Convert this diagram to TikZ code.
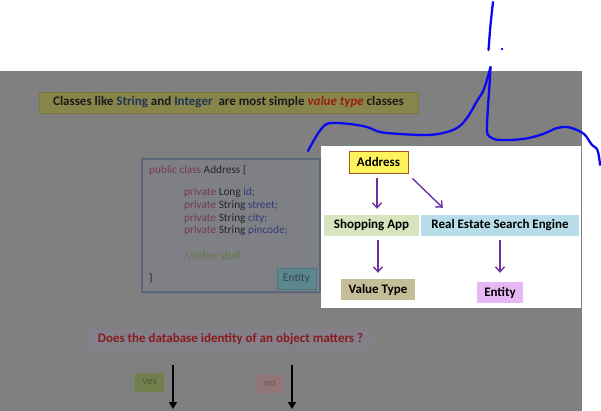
\documentclass[tikz,border=0pt]{standalone}
\usepackage{fontspec}
\setmainfont{Carlito}
\usetikzlibrary{arrows.meta}
\definecolor{greybg}{HTML}{808080}
\definecolor{banfill}{HTML}{88854A}
\definecolor{banedge}{HTML}{7A7842}
\definecolor{bantext}{HTML}{1A1A1A}
\definecolor{strblue}{HTML}{1F3459}
\definecolor{vtred}{HTML}{962010}
\definecolor{codefill}{HTML}{7E8086}
\definecolor{codeedge}{HTML}{5A677C}
\definecolor{kwcol}{HTML}{773857}
\definecolor{plaincol}{HTML}{262626}
\definecolor{idcol}{HTML}{38387A}
\definecolor{cmtcol}{HTML}{66753C}
\definecolor{badgefill}{HTML}{5B878F}
\definecolor{badgeedge}{HTML}{4B7782}
\definecolor{badgetext}{HTML}{37444A}
\definecolor{qfill}{HTML}{83808A}
\definecolor{qtext}{HTML}{881C1C}
\definecolor{yesfill}{HTML}{71804C}
\definecolor{yestext}{HTML}{515A3E}
\definecolor{nofill}{HTML}{937577}
\definecolor{notext}{HTML}{655454}
\definecolor{addrfill}{HTML}{FFF35C}
\definecolor{addredge}{HTML}{A8542A}
\definecolor{shopfill}{HTML}{D7E4BD}
\definecolor{realfill}{HTML}{B7DEE8}
\definecolor{valfill}{HTML}{C4BD97}
\definecolor{entfill}{HTML}{E6B9F6}
\definecolor{arrpurple}{HTML}{7030A0}
\definecolor{inkblue}{HTML}{0A0AF0}
\tikzset{
  box/.style={inner sep=0pt, minimum height=21pt, text=black, font=\fontsize{13}{15}\selectfont\bfseries},
  codeline/.style={anchor=west, inner sep=0pt, font=\fontsize{11.3}{13}\selectfont, text=plaincol},
  parrow/.style={draw=arrpurple, line width=1.4pt, -{Straight Barb[length=5pt,width=9pt]}},
  barrow/.style={draw=black, line width=1.8pt, -{Triangle[length=7pt,width=8pt]}},
  ink/.style={draw=inkblue, line width=2.3pt, line cap=round, line join=round},
}
\begin{document}
\begin{tikzpicture}[x=1pt,y=-1pt]
\useasboundingbox (0,0) rectangle (601,411);
\fill[white] (0,0) rectangle (601,411);
\fill[greybg] (0,71) rectangle (582,411);
% banner
\node[box, fill=banfill, draw=banedge, line width=0.8pt, minimum width=379pt, text=bantext] (ban) at (228.5,102.5)
  {Classes like \textcolor{strblue}{String} and \textcolor{strblue}{Integer}\ \ are most simple \textcolor{vtred}{\textit{value type}} classes};
% code box
\fill[black!60, opacity=0.25] (144,161) rectangle (322,294);
\node[draw=codeedge, fill=codefill, line width=1.2pt, minimum width=178pt, minimum height=133pt, inner sep=0pt] (code) at (231,225.5) {};
\node[codeline] (c1) at (149,170) {\textcolor{kwcol}{public class} Address \{};
\node[codeline] (c2) at (184,193) {\textcolor{kwcol}{private} Long \textcolor{idcol}{id;}};
\node[codeline] (c3) at (184,206) {\textcolor{kwcol}{private} String \textcolor{idcol}{street;}};
\node[codeline] (c4) at (184,219) {\textcolor{kwcol}{private} String \textcolor{idcol}{city;}};
\node[codeline] (c5) at (184,231) {\textcolor{kwcol}{private} String \textcolor{idcol}{pincode;}};
\node[codeline, text=cmtcol] (c6) at (184,256) {//other stuff};
\node[codeline] (c7) at (149,278) {\}};
\node[draw=badgeedge, fill=badgefill, line width=1pt, minimum width=39pt, minimum height=21pt, inner sep=0pt, text=badgetext, font=\fontsize{11.5}{13}\selectfont] (ent0) at (296.5,278.5) {Entity};
% white panel
\node[fill=white, minimum width=260pt, minimum height=162pt, inner sep=0pt] (panel) at (451,227) {};
\node[box, fill=addrfill, draw=addredge, line width=0.9pt, minimum width=59pt, minimum height=22pt] (addr) at (378.5,162) {Address};
\node[box, fill=shopfill, minimum width=95pt] (shop) at (371.5,225.5) {Shopping App};
\node[box, fill=realfill, minimum width=158pt] (real) at (500,225.5) {Real Estate Search Engine};
\node[box, fill=valfill, minimum width=74pt] (val) at (378,289.5) {Value Type};
\node[box, fill=entfill, minimum width=46pt] (ent) at (500,292.5) {Entity};
\draw[parrow, shorten <=5pt, shorten >=6pt] ([xshift=-1.5pt]addr.south) -- ([xshift=-1.5pt]addr.south |- shop.north);
\draw[parrow] ([shift={(4,5)}]addr.south east) -- ([shift={(22,-7)}]real.north west);
\draw[parrow, shorten <=4pt, shorten >=6pt] (val.north |- shop.south) -- (val.north);
\draw[parrow, shorten <=4pt, shorten >=9pt] (real.south) -- (ent.north);
% question
\node[box, fill=qfill, minimum width=285pt, text=qtext] (q) at (230.5,339.5) {Does the database identity of an object matters ?};
\node[fill=yesfill, minimum width=29pt, minimum height=19pt, inner sep=0pt, text=yestext, font=\fontsize{11}{13}\selectfont] (yes) at (149.5,382.5) {yes};
\node[fill=nofill, minimum width=26pt, minimum height=18pt, inner sep=0pt, text=notext, font=\fontsize{11}{13}\selectfont] (no) at (270,384) {no};
\coordinate (ya) at (173,365);
\coordinate (yb) at (173,409);
\coordinate (na) at (292,365);
\coordinate (nb) at (292,409);
\draw[barrow] (ya) -- (yb);
\draw[barrow] (na) -- (nb);
% hand-drawn ink
\draw[ink] plot[smooth, tension=0.6] coordinates {(493,2) (490.5,25) (488.5,50)};
\fill[inkblue] (502,49) circle (1.3pt);
\draw[ink] plot[smooth, tension=0.6] coordinates {(308,151) (317,135) (325,125) (333,123) (350,124) (367,127) (380,132) (400,134) (427,135) (443,133) (457,128) (467,118) (477,101) (484,89) (490.5,67)};
\draw[ink] plot[smooth, tension=0.6] coordinates {(490.5,67) (489.5,85) (488,107) (487,130) (490,137) (500,140) (523,139) (540,135) (550,131) (557,128) (567,127) (577,130) (584,134) (588,139) (592,145) (597,149) (599,157) (600,165)};
\end{tikzpicture}
\end{document}
